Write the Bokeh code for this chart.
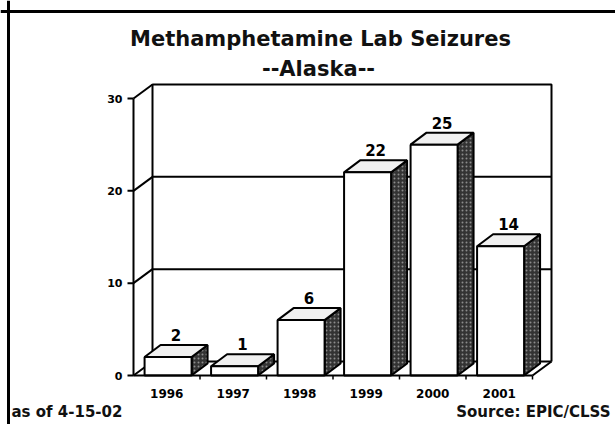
import numpy as np
from bokeh.plotting import figure
from bokeh.models import Range1d, Label, Span
from bokeh.core.properties import value
from bokeh.embed import file_html
from bokeh.resources import INLINE

# ---- data ----
years = ["1996", "1997", "1998", "1999", "2000", "2001"]
seizures = [2, 1, 6, 22, 25, 14]
y_ticks = [0, 10, 20, 30]
y_tick_labels = ["0", "10", "20", "30"]
title_text = "Methamphetamine Lab Seizures"
subtitle_text = "--Alaska--"
note_left = "as of 4-15-02"
note_right = "Source: EPIC/CLSS"

# ---- geometry (pixel -> data helpers, style only) ----
W, H = 615, 424
PX_X = 66.5            # px per category
PX_Y = 9.2333          # px per unit value
x0_px, y0_px = 133, 375
x_start = -x0_px / PX_X
y_start = -(H - y0_px) / PX_Y

wall_dx, wall_dy = 19 / PX_X, 14 / PX_Y
bar_dx, bar_dy = 16 / PX_X, 12 / PX_Y
bar_w = 47 / PX_X
n = len(years)
y_top = max(y_ticks)

FONT = "DejaVu Sans"

p = figure(width=W, height=H, x_range=Range1d(x_start, x_start + W / PX_X),
           y_range=Range1d(y_start, y_start + H / PX_Y),
           x_axis_type=None, y_axis_type=None, min_border=0,
           toolbar_location=None, output_backend="svg",
           outline_line_color=None, background_fill_color="white",
           border_fill_color="white")

LW = 2
# back wall
bx0, bx1 = wall_dx, n + wall_dx
p.multi_line(xs=[[bx0, bx0, bx1, bx1], [bx0, bx1]],
             ys=[[wall_dy, y_top + wall_dy, y_top + wall_dy, wall_dy], [wall_dy, wall_dy]],
             line_color="black", line_width=LW)
# gridlines on back wall
grid_vals = [t for t in y_ticks if 0 < t < y_top]
p.segment(x0=[bx0] * len(grid_vals), x1=[bx1] * len(grid_vals),
          y0=[t + wall_dy for t in grid_vals], y1=[t + wall_dy for t in grid_vals],
          line_color="black", line_width=LW)
# left wall connectors
p.segment(x0=[0] * len(y_ticks), x1=[wall_dx] * len(y_ticks),
          y0=y_ticks, y1=[t + wall_dy for t in y_ticks],
          line_color="black", line_width=LW)
# floor right edge
p.segment(x0=[n], x1=[n + wall_dx], y0=[0], y1=[wall_dy], line_color="black", line_width=LW)

# bars
v = np.array(seizures, dtype=float)
centers = np.arange(n) + 0.5
L = centers - bar_w / 2 + 0.02
R = L + bar_w
side_xs = [[r, r + bar_dx, r + bar_dx, r] for r in R]
side_ys = [[0, bar_dy, val + bar_dy, val] for val in v]
top_xs = [[l, r, r + bar_dx, l + bar_dx] for l, r in zip(L, R)]
top_ys = [[val, val, val + bar_dy, val + bar_dy] for val in v]

p.patches(xs=side_xs, ys=side_ys, fill_color="#333333", line_color="black", line_width=LW,
          hatch_pattern="dot", hatch_color="#8c8c8c", hatch_scale=4, hatch_weight=1)
p.patches(xs=top_xs, ys=top_ys, fill_color="#f0f0f0", line_color="black", line_width=LW)
p.quad(left=L, right=R, bottom=0, top=v, fill_color="white", line_color="black", line_width=LW)

# front axes
p.segment(x0=[0], x1=[0], y0=[0], y1=[y_top], line_color="black", line_width=LW)
p.segment(x0=[0], x1=[n], y0=[0], y1=[0], line_color="black", line_width=LW)
p.segment(x0=[0] * len(y_ticks), x1=[-6 / PX_X] * len(y_ticks), y0=y_ticks, y1=y_ticks,
          line_color="black", line_width=LW)
bounds = list(range(1, n + 1))
p.segment(x0=bounds, x1=bounds, y0=[0] * n, y1=[-4 / PX_Y] * n, line_color="black", line_width=1.5)

# tick labels
p.text(x=[0] * len(y_ticks), y=y_ticks, text=y_tick_labels, x_offset=-11,
       text_align="right", text_baseline="middle", text_font=value(FONT),
       text_font_style="bold", text_font_size="11px", text_color="black")
p.text(x=centers, y=[0] * n, text=years, y_offset=18,
       text_align="center", text_baseline="middle", text_font=value(FONT),
       text_font_style="bold", text_font_size="12px", text_color="black")

# value labels
p.text(x=centers + 0.02 + bar_dx / 2, y=v + bar_dy, text=[str(s) for s in seizures], y_offset=-4,
       text_align="center", text_baseline="bottom", text_font=value(FONT),
       text_font_style="bold", text_font_size="15px", text_color="black")

# titles & notes
p.add_layout(Label(x=320, y=H - 38, x_units="screen", y_units="screen", text=title_text,
                   text_align="center", text_baseline="alphabetic", text_font=FONT,
                   text_font_style="bold", text_font_size="21px", text_color="#111111"))
p.add_layout(Label(x=318, y=H - 68, x_units="screen", y_units="screen", text=subtitle_text,
                   text_align="center", text_baseline="alphabetic", text_font=FONT,
                   text_font_style="bold", text_font_size="21px", text_color="#111111"))
p.add_layout(Label(x=11, y=4, x_units="screen", y_units="screen", text=note_left,
                   text_align="left", text_baseline="bottom", text_font=FONT,
                   text_font_style="bold", text_font_size="15px", text_color="#111111"))
p.add_layout(Label(x=610, y=4, x_units="screen", y_units="screen", text=note_right,
                   text_align="right", text_baseline="bottom", text_font=FONT,
                   text_font_style="bold", text_font_size="15px", text_color="#111111"))

# outer frame (top and left borders)
p.add_layout(Span(location=H - 11, location_units="screen", dimension="width",
                  line_color="black", line_width=3))
p.add_layout(Span(location=8, location_units="screen", dimension="height",
                  line_color="black", line_width=3))

open("out.html", "w").write(file_html(p, INLINE))
